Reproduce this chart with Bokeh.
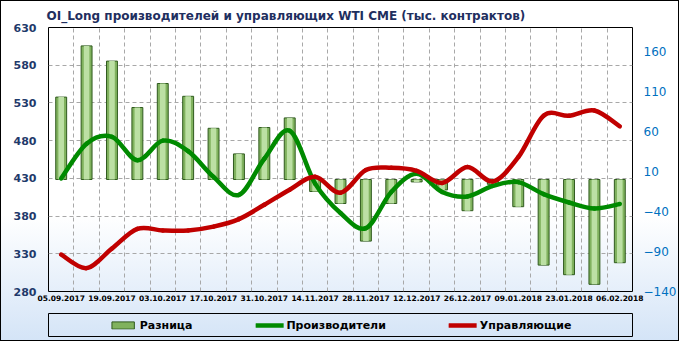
from bokeh.plotting import figure
from bokeh.layouts import column
from bokeh.models import Range1d, LinearAxis, FixedTicker, Legend, LegendItem, InlineStyleSheet
from bokeh.embed import file_html
from bokeh.resources import INLINE

dates = ["05.09.2017", "12.09.2017", "19.09.2017", "26.09.2017", "03.10.2017", "10.10.2017",
         "17.10.2017", "24.10.2017", "31.10.2017", "07.11.2017", "14.11.2017", "21.11.2017",
         "28.11.2017", "05.12.2017", "12.12.2017", "19.12.2017", "26.12.2017", "02.01.2018",
         "09.01.2018", "16.01.2018", "23.01.2018", "30.01.2018", "06.02.2018"]
producers = [430, 476, 485, 454, 480, 466, 432, 408, 456, 493, 423, 384,
             364, 412, 436, 412, 406, 420, 425, 409, 398, 390, 396]
managers = [329, 311, 337, 363, 361, 361, 366, 376, 395, 415, 432, 411,
            441, 444, 440, 424, 445, 426, 458, 513, 513, 520, 499]
diff = [103, 167, 148, 90, 120, 104, 64, 32, 65, 77, -15, -30,
        -77, -30, -3, -13, -39, -6, -34, -107, -119, -131, -104]
left_ticks = [280, 330, 380, 430, 480, 530, 580, 630]
right_ticks = [-140, -90, -40, 10, 60, 110, 160]
title = "OI_Long производителей и управляющих WTI CME (тыс. контрактов)"
series_names = ["Разница", "Производители", "Управляющие"]

n = len(dates)
idx = list(range(n))
NAN = float("nan")

W, H = 679, 341
H1 = 312
BAR_FILL, BAR_LINE, BAR_INNER = "#80B25E", "#2F5A1E", "#BCE0A4"
GREEN, RED = "#008A00", "#C00000"

p = figure(width=W, height=H1, output_backend="svg", toolbar_location=None,
           x_range=Range1d(-0.5, n - 0.5), y_range=Range1d(left_ticks[0], left_ticks[-1]),
           min_border_left=48, min_border_right=43, min_border_top=27, min_border_bottom=21,
           background_fill_alpha=0, border_fill_alpha=0,
           outline_line_color="black", outline_line_width=1)
p.extra_y_ranges = {"r": Range1d(-140, 190)}

# title
p.title.text = title
p.title.align = "left"
p.title.text_font = "DejaVu Sans"
p.title.text_font_size = "12px"
p.title.text_font_style = "bold"
p.title.text_color = "#1F2F5F"
p.title.standoff = 9
p.title.offset = -2

# axes
xa = p.xaxis[0]
xa.ticker = FixedTicker(ticks=idx[::2])
xa.major_label_overrides = {i: dates[i] for i in idx[::2]}
xa.major_label_text_font = "DejaVu Sans"
xa.major_label_text_font_size = "7.5px"
xa.major_label_text_font_style = "bold"
xa.major_label_text_color = "black"
xa.major_label_standoff = 3

ya_ = p.yaxis[0]
ya_.ticker = FixedTicker(ticks=left_ticks)
ya_.major_label_text_font = "DejaVu Sans"
ya_.major_label_text_font_size = "11px"
ya_.major_label_text_font_style = "bold"
ya_.major_label_text_color = "#1F3A6B"
ya_.major_label_standoff = 12

ra = LinearAxis(y_range_name="r", ticker=FixedTicker(ticks=right_ticks))
ra.major_label_text_font = "DejaVu Sans"
ra.major_label_text_font_size = "12px"
ra.major_label_text_color = "#0070C0"
ra.major_label_standoff = 11
p.add_layout(ra, "right")

for ax in (xa, ya_, ra):
    ax.axis_line_color = None
    ax.major_tick_line_color = None
    ax.minor_tick_line_color = None
    ax.major_tick_out = 0
    ax.major_tick_in = 0
    ax.minor_tick_out = 0
    ax.minor_tick_in = 0

# grids
p.xgrid.ticker = FixedTicker(ticks=[i + 0.5 for i in idx[:-1]])
p.ygrid.ticker = FixedTicker(ticks=left_ticks[1:-1])
for g in (p.xgrid, p.ygrid):
    g.grid_line_color = "#A8A8A8"
    g.grid_line_dash = "4 3"
    g.grid_line_width = 1

# bars
p.vbar(x=idx, top=diff, bottom=0, width=0.43, y_range_name="r",
       fill_color=BAR_FILL, line_color=BAR_LINE, line_width=1)
p.vbar(x=idx, top=diff, bottom=0, width=0.22, y_range_name="r",
       fill_color=BAR_INNER, line_alpha=0)


def smooth(xs, ys):
    x0, y0, x1, y1, cx0, cy0, cx1, cy1 = [], [], [], [], [], [], [], []
    m = len(xs)
    for i in range(m - 1):
        xp, yp = (xs[i - 1], ys[i - 1]) if i > 0 else (xs[i], ys[i])
        xn, yn = (xs[i + 2], ys[i + 2]) if i + 2 < m else (xs[i + 1], ys[i + 1])
        x0.append(xs[i]); y0.append(ys[i]); x1.append(xs[i + 1]); y1.append(ys[i + 1])
        cx0.append(xs[i] + (xs[i + 1] - xp) / 6); cy0.append(ys[i] + (ys[i + 1] - yp) / 6)
        cx1.append(xs[i + 1] - (xn - xs[i]) / 6); cy1.append(ys[i + 1] - (yn - ys[i]) / 6)
    return dict(x0=x0, y0=y0, x1=x1, y1=y1, cx0=cx0, cy0=cy0, cx1=cx1, cy1=cy1)


p.bezier(**smooth(idx, producers), line_color=GREEN, line_width=4.5, line_cap="round")
p.bezier(**smooth(idx, managers), line_color=RED, line_width=4.5, line_cap="round")

# legend strip (its frame is the legend box); proxy renderers hold no drawable data
q = figure(width=W, height=H - H1, output_backend="svg", toolbar_location=None,
           x_range=Range1d(0, 1), y_range=Range1d(0, 1),
           x_axis_type=None, y_axis_type=None,
           min_border_left=48, min_border_right=43, min_border_top=1, min_border_bottom=5,
           background_fill_alpha=0, border_fill_alpha=0,
           outline_line_color="black", outline_line_width=1)
q.xgrid.visible = False
q.ygrid.visible = False
lb = q.vbar(x=[NAN], top=[NAN], width=0.5, fill_color=BAR_FILL, line_color=BAR_LINE, line_width=1)
lg = q.line(x=[NAN, NAN], y=[NAN, NAN], line_color=GREEN, line_width=4.5, line_cap="round")
lr = q.line(x=[NAN, NAN], y=[NAN, NAN], line_color=RED, line_width=4.5, line_cap="round")
legend = Legend(items=[LegendItem(label=series_names[0], renderers=[lb]),
                       LegendItem(label=series_names[1], renderers=[lg]),
                       LegendItem(label=series_names[2], renderers=[lr])],
                orientation="horizontal", location="center",
                label_text_font="DejaVu Sans", label_text_font_size="11px",
                label_text_font_style="bold", label_text_color="black",
                glyph_width=28, glyph_height=9, label_height=13, label_standoff=3,
                spacing=63, padding=0, margin=0,
                border_line_alpha=0, background_fill_alpha=0)
q.add_layout(legend, "center")

css = (":host { background: linear-gradient(to bottom, #ffffff 0px, #ffffff 215px, #d4e4f7 341px);"
       " outline: 1px solid black; outline-offset: -1px; }")
layout = column(p, q, spacing=0, stylesheets=[InlineStyleSheet(css=css)])

open("out.html", "w").write(file_html(layout, INLINE))
